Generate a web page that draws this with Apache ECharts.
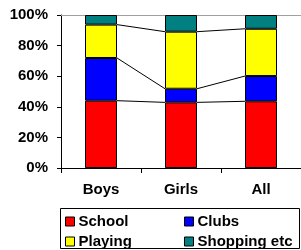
<!DOCTYPE html>
<html>
<head>
<meta charset="utf-8">
<script src="https://cdn.jsdelivr.net/npm/echarts@6/dist/echarts.min.js"></script>
<style>
  html, body { margin: 0; padding: 0; background: #fff; }
  #chart { width: 301px; height: 250px; }
</style>
</head>
<body>
<div id="chart"></div>
<script>
// chart data (percent of each group)
const categories = ['Boys', 'Girls', 'All'];
const school = [44, 42.9, 43.6];
const clubs = [27.9, 8.9, 16.5];
const playing = [21.8, 37.3, 30.9];
const shopping = [6.3, 10.9, 9];
const yTicks = [0, 20, 40, 60, 80, 100];

const FONT = 'Liberation Sans, Arial, sans-serif';

// cumulative tops used by the series lines between bars
let levels = [school, clubs, playing];
let cumTops = [];
let running = categories.map(() => 0);
levels.forEach(arr => {
    running = running.map((v, i) => v + arr[i]);
    cumTops.push(running.slice());
});

const chart = echarts.init(document.getElementById('chart'));

function barSeries(name, data, color) {
    return {
        name: name,
        type: 'bar',
        stack: 'total',
        data: data,
        barWidth: '40%',
        itemStyle: { color: color, borderColor: '#000', borderWidth: 1 },
        emphasis: { disabled: true },
        animation: false
    };
}

// one legend per entry so the 2x2 layout lines up in columns
function legendItem(name, left, top) {
    return {
        left: left,
        top: top,
        padding: 0,
        itemWidth: 9,
        itemHeight: 9,
        itemGap: 0,
        icon: 'rect',
        data: [name],
        itemStyle: { borderColor: '#000', borderWidth: 1 },
        textStyle: { color: '#000', fontFamily: FONT, fontWeight: 'bold', fontSize: 15, padding: [0, 0, 0, -1] }
    };
}

const option = {
    animation: false,
    grid: { left: 61, right: 0, top: 15, bottom: 82, containLabel: false },
    xAxis: [{
        type: 'category',
        data: categories,
        axisLine: { lineStyle: { color: '#000', width: 1 } },
        axisTick: { show: true, length: 5, lineStyle: { color: '#000' } },
        axisLabel: {
            margin: 14,
            color: '#000',
            fontFamily: FONT,
            fontWeight: 'bold',
            fontSize: 15
        }
    }, {
        type: 'category',
        position: 'top',
        data: categories,
        axisLine: { show: true, lineStyle: { color: '#a0a0a0', width: 1 } },
        axisTick: { show: false },
        axisLabel: { show: false }
    }],
    yAxis: {
        type: 'value',
        min: yTicks[0],
        max: yTicks[yTicks.length - 1],
        interval: 20,
        splitLine: { show: false },
        axisLine: { show: true, lineStyle: { color: '#000', width: 1 } },
        axisTick: { show: true, length: 4, lineStyle: { color: '#000' } },
        axisLabel: {
            formatter: '{value}%',
            margin: 13,
            color: '#000',
            fontFamily: FONT,
            fontWeight: 'bold',
            fontSize: 15
        }
    },
    legend: [
        legendItem('School', 65, 214),
        legendItem('Clubs', 184, 214),
        legendItem('Playing', 65, 234),
        legendItem('Shopping etc', 184, 234)
    ],
    graphic: [{
        type: 'rect',
        shape: { x: 60.5, y: 208.5, width: 239, height: 40 },
        style: { fill: 'none', stroke: '#000', lineWidth: 1 },
        silent: true
    }],
    series: [
        barSeries('School', school, '#ff0000'),
        barSeries('Clubs', clubs, '#0000ff'),
        barSeries('Playing', playing, '#ffff00'),
        barSeries('Shopping etc', shopping, '#008080'),
        {
            // series lines joining the segment tops of neighbouring bars
            type: 'custom',
            data: categories.slice(0, -1).map((c, i) => [i]),
            encode: { x: 0 },
            silent: true,
            z: 5,
            renderItem: function (params, api) {
                let i = params.dataIndex;
                let half = api.size([1, 0])[0] * 0.2;
                let children = cumTops.map(tops => {
                    let p1 = api.coord([i, tops[i]]);
                    let p2 = api.coord([i + 1, tops[i + 1]]);
                    return {
                        type: 'line',
                        shape: { x1: p1[0] + half, y1: p1[1], x2: p2[0] - half, y2: p2[1] },
                        style: { stroke: '#000', lineWidth: 1 }
                    };
                });
                return { type: 'group', children: children };
            }
        }
    ]
};

chart.setOption(option);
</script>
</body>
</html>
